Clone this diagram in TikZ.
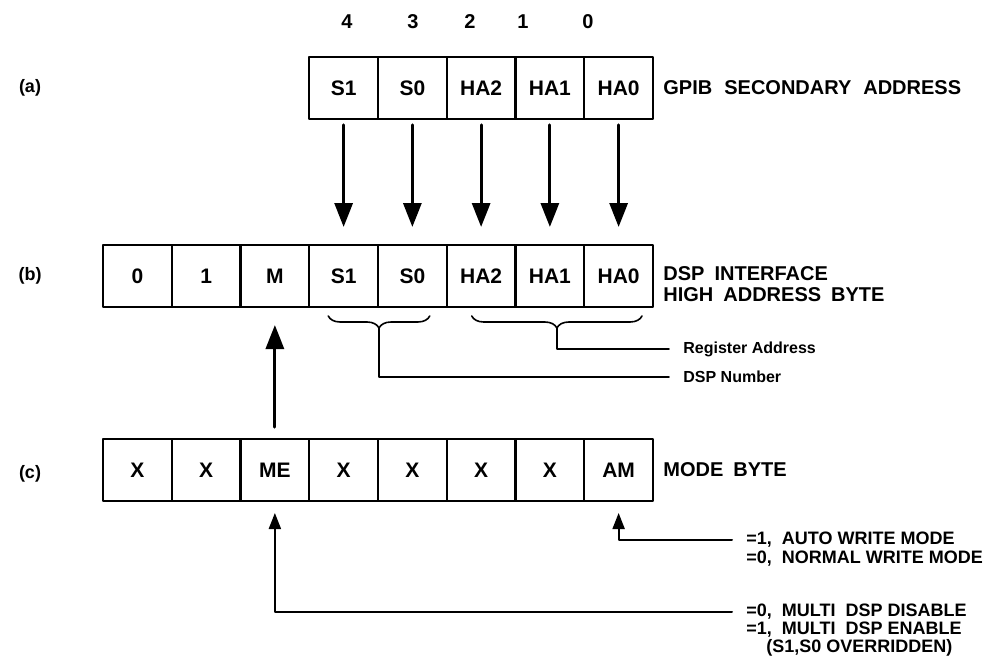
\documentclass[tikz,border=0pt]{standalone}
\usepackage{fontspec}
\setmainfont{Liberation Sans}
\usetikzlibrary{arrows.meta,positioning,decorations.pathreplacing}
\tikzset{
	cell/.style={draw,line width=1pt,minimum width=34.4pt,minimum height=31pt,inner sep=0pt,outer sep=0pt,font=\fontsize{10.5}{12}\selectfont\bfseries},
	bit/.style={font=\fontsize{10}{12}\selectfont\bfseries,inner sep=0pt},
	rowlbl/.style={font=\fontsize{9}{11}\selectfont\bfseries,inner sep=0pt},
	lbl/.style={font=\fontsize{10}{10.5}\selectfont\bfseries,inner sep=0pt,align=left},
	note/.style={font=\fontsize{9}{9}\selectfont\bfseries,anchor=west,inner sep=0pt},
	tiny/.style={font=\fontsize{8}{8}\selectfont\bfseries,anchor=west,inner sep=0pt},
	bigarr/.style={line width=1.6pt,-{Triangle[length=12pt,width=9pt]}},
	smallarr/.style={line width=1pt,-{Triangle[length=8pt,width=6pt]}},
	brc/.style={decorate,decoration={brace,mirror,amplitude=6pt},line width=0.8pt}
}
\begin{document}
\begin{tikzpicture}[x=0.5pt,y=-0.5pt,line join=round,line cap=round]
	\useasboundingbox (0,0) rectangle (992,664);
	% the three registers
	\foreach \t [count=\i] in {S1,S0,HA2,HA1,HA0}
		\node[cell] (a\i) at ({309.25+68.75*(\i-0.5)},88) {\t};
	\foreach \t [count=\i] in {0,1,M,S1,S0,HA2,HA1,HA0}
		\node[cell] (b\i) at ({103+68.75*(\i-0.5)},276) {\t};
	\foreach \t [count=\i] in {X,X,ME,X,X,X,X,AM}
		\node[cell] (c\i) at ({103+68.75*(\i-0.5)},470) {\t};
	\foreach \n/\x in {4/347,3/413,2/470,1/523,0/588}
		\node[bit] (n\n) at (\x,22) {\n};
	\node[rowlbl] (la) at (30,88) {(a)};
	\node[rowlbl] (lb) at (30,276) {(b)};
	\node[rowlbl] (lc) at (30,474) {(c)};
	\node[lbl,right=5pt of a5] (gpib) {GPIB\hspace{.6em}SECONDARY\hspace{.6em}ADDRESS};
	\node[lbl,right=5pt of b8,yshift=-4pt] (dsp) {DSP\hspace{.5em}INTERFACE\\HIGH\hspace{.5em}ADDRESS\hspace{.5em}BYTE};
	\node[lbl,right=5pt of c8] (mode) {MODE\hspace{.5em}BYTE};
	% arrows
	\foreach \i/\j in {1/4,2/5,3/6,4/7,5/8}
		\draw[bigarr,shorten <=3pt,shorten >=9pt] (a\i) -- (b\j);
	\draw[bigarr,shorten <=6pt,shorten >=9pt] (c3) -- (b3);
	% braces
	\draw[brc] ([xshift=9.5pt,yshift=-4.5pt]b4.south west) -- node[coordinate,yshift=-6pt] (t1) {} ([xshift=-8.5pt,yshift=-4.5pt]b5.south east);
	\draw[brc] ([xshift=12.5pt,yshift=-4.5pt]b6.south west) -- node[coordinate,yshift=-6pt] (t2) {} ([xshift=-5.5pt,yshift=-4.5pt]b8.south east);
	\node[tiny] (reg) at (683,349) {Register Address};
	\node[tiny] (num) at (683,377) {DSP Number};
	\draw[line width=0.8pt,shorten >=7pt] (t2) |- (reg.west);
	\draw[line width=0.8pt,shorten >=7pt] (t1) |- (num.west);
	% mode byte notes
	\node[note] (auto) at (746,540) {=1,\ \ AUTO WRITE MODE};
	\node[note] (norm) at (746,559) {=0,\ \ NORMAL WRITE MODE};
	\node[note] (dis) at (746,612) {=0,\ \ MULTI\ \ DSP DISABLE};
	\node[note] (ena) at (746,630) {=1,\ \ MULTI\ \ DSP ENABLE};
	\node[note] (ovr) at (766,648) {(S1,S0 OVERRIDDEN)};
	\draw[smallarr,shorten <=7pt,shorten >=6pt] (auto.west) -| (c8.south);
	\draw[smallarr,shorten <=7pt,shorten >=6pt] (dis.west) -| (c3.south);
\end{tikzpicture}
\end{document}
